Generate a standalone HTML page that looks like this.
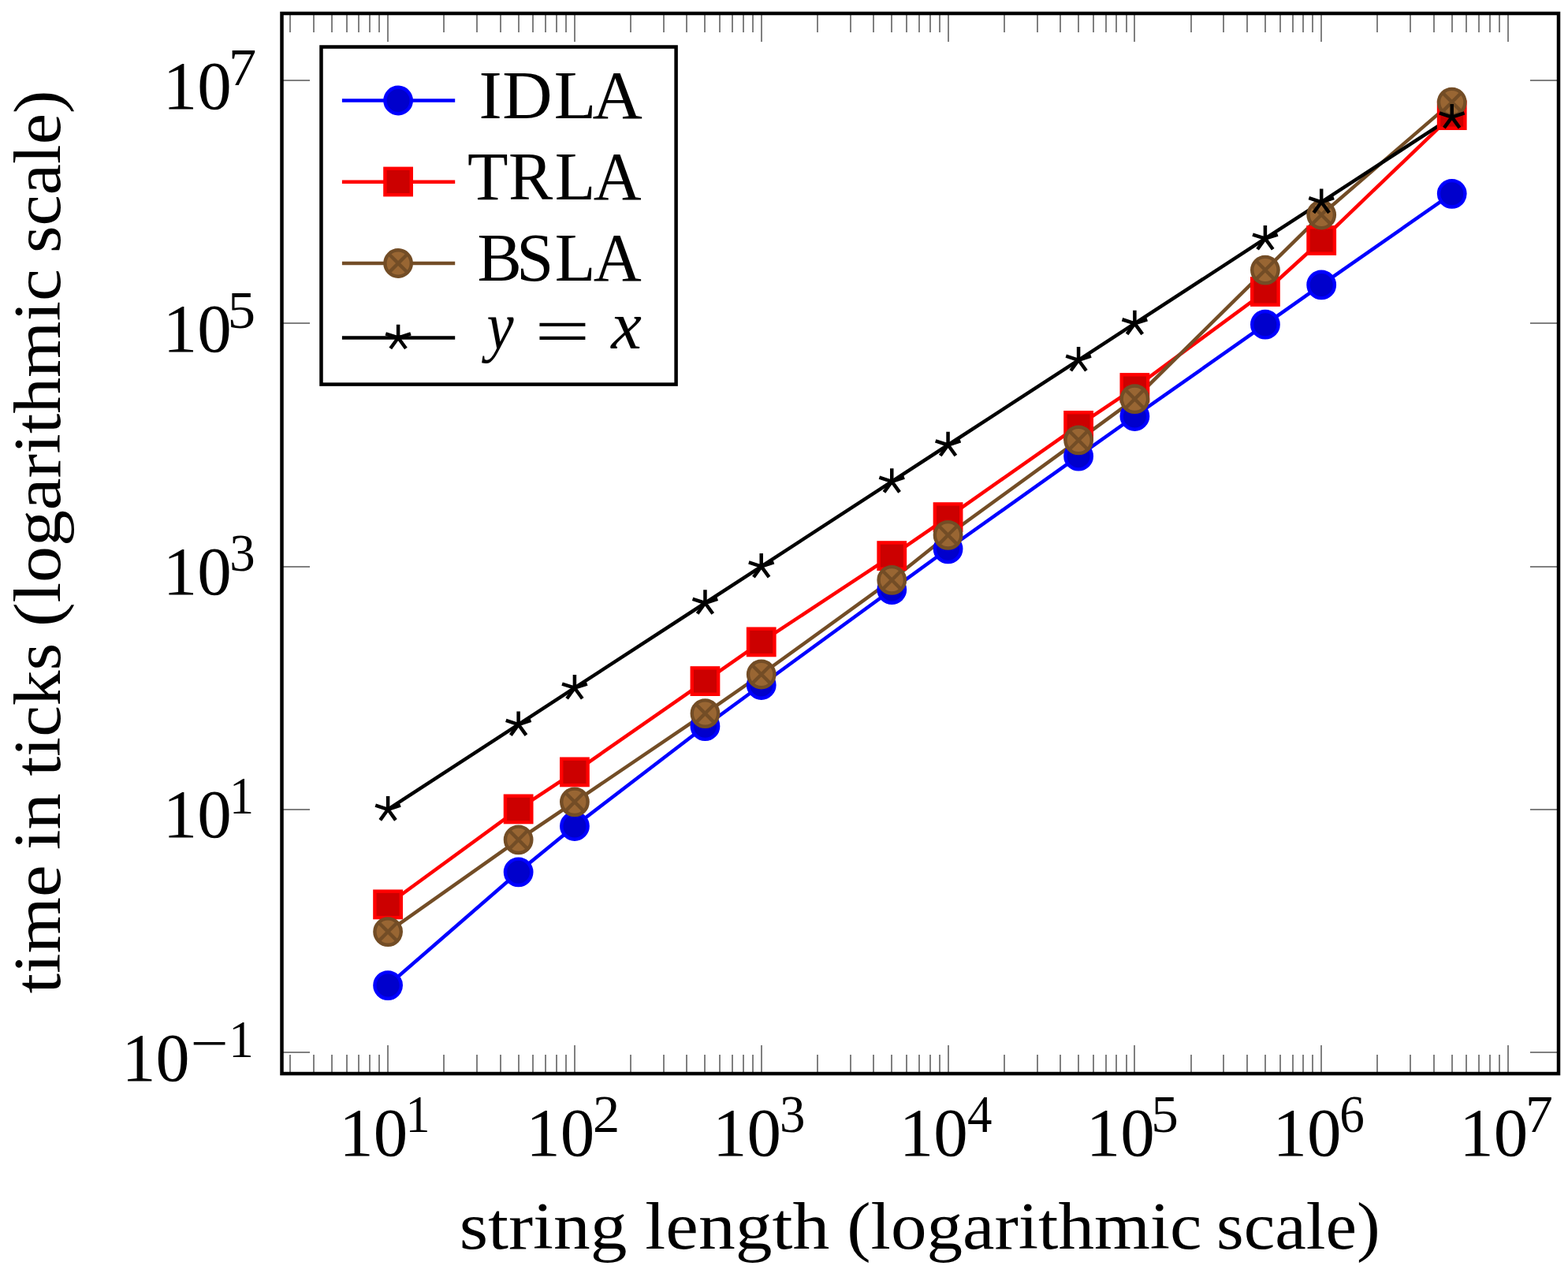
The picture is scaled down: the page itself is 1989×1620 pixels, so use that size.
<!DOCTYPE html>
<html lang="en"><head><meta charset="utf-8"><title>Running time plot</title>
<style>
html,body{margin:0;padding:0;background:#fff}
body{width:1989px;height:1620px;overflow:hidden}
svg{display:block}
text{font-family:"Liberation Serif",serif}
</style></head><body>
<svg width="1989" height="1620" viewBox="0 0 1989 1620">
<rect width="1989" height="1620" fill="#fff"/>
<g>
<path d="M368 1362.0 V1338 M368 17.0 V41 M398 1362.0 V1338 M398 17.0 V41 M421 1362.0 V1338 M421 17.0 V41 M440 1362.0 V1338 M440 17.0 V41 M455 1362.0 V1338 M455 17.0 V41 M469 1362.0 V1338 M469 17.0 V41 M481 1362.0 V1338 M481 17.0 V41 M492 1362.0 V1326 M492 17.0 V53 M563 1362.0 V1338 M563 17.0 V41 M605 1362.0 V1338 M605 17.0 V41 M635 1362.0 V1338 M635 17.0 V41 M658 1362.0 V1338 M658 17.0 V41 M676 1362.0 V1338 M676 17.0 V41 M692 1362.0 V1338 M692 17.0 V41 M706 1362.0 V1338 M706 17.0 V41 M718 1362.0 V1338 M718 17.0 V41 M729 1362.0 V1326 M729 17.0 V53 M800 1362.0 V1338 M800 17.0 V41 M842 1362.0 V1338 M842 17.0 V41 M871 1362.0 V1338 M871 17.0 V41 M894 1362.0 V1338 M894 17.0 V41 M913 1362.0 V1338 M913 17.0 V41 M929 1362.0 V1338 M929 17.0 V41 M943 1362.0 V1338 M943 17.0 V41 M955 1362.0 V1338 M955 17.0 V41 M966 1362.0 V1326 M966 17.0 V53 M1037 1362.0 V1338 M1037 17.0 V41 M1079 1362.0 V1338 M1079 17.0 V41 M1108 1362.0 V1338 M1108 17.0 V41 M1131 1362.0 V1338 M1131 17.0 V41 M1150 1362.0 V1338 M1150 17.0 V41 M1166 1362.0 V1338 M1166 17.0 V41 M1180 1362.0 V1338 M1180 17.0 V41 M1192 1362.0 V1338 M1192 17.0 V41 M1203 1362.0 V1326 M1203 17.0 V53 M1274 1362.0 V1338 M1274 17.0 V41 M1316 1362.0 V1338 M1316 17.0 V41 M1345 1362.0 V1338 M1345 17.0 V41 M1368 1362.0 V1338 M1368 17.0 V41 M1387 1362.0 V1338 M1387 17.0 V41 M1403 1362.0 V1338 M1403 17.0 V41 M1416 1362.0 V1338 M1416 17.0 V41 M1429 1362.0 V1338 M1429 17.0 V41 M1439 1362.0 V1326 M1439 17.0 V53 M1511 1362.0 V1338 M1511 17.0 V41 M1552 1362.0 V1338 M1552 17.0 V41 M1582 1362.0 V1338 M1582 17.0 V41 M1605 1362.0 V1338 M1605 17.0 V41 M1624 1362.0 V1338 M1624 17.0 V41 M1640 1362.0 V1338 M1640 17.0 V41 M1653 1362.0 V1338 M1653 17.0 V41 M1665 1362.0 V1338 M1665 17.0 V41 M1676 1362.0 V1326 M1676 17.0 V53 M1747 1362.0 V1338 M1747 17.0 V41 M1789 1362.0 V1338 M1789 17.0 V41 M1819 1362.0 V1338 M1819 17.0 V41 M1842 1362.0 V1338 M1842 17.0 V41 M1860 1362.0 V1338 M1860 17.0 V41 M1876 1362.0 V1338 M1876 17.0 V41 M1890 1362.0 V1338 M1890 17.0 V41 M1902 1362.0 V1338 M1902 17.0 V41 M1913 1362.0 V1326 M1913 17.0 V53 M357.5 1335 H393 M1977.0 1335 H1941 M357.5 1027 H393 M1977.0 1027 H1941 M357.5 719 H393 M1977.0 719 H1941 M357.5 410 H393 M1977.0 410 H1941 M357.5 102 H393 M1977.0 102 H1941" stroke="#808080" stroke-width="2" fill="none"/>
<rect x="357.5" y="17.0" width="1619.5" height="1345.0" fill="none" stroke="#000" stroke-width="4.5"/>
<path d="M492.10 1250.10 L657.63 1106.30 L728.92 1048.00 L894.45 921.20 L965.74 869.00 L1131.27 748.10 L1202.56 696.30 L1368.09 578.70 L1439.38 528.00 L1604.91 411.70 L1676.20 361.40 L1841.73 245.80" fill="none" stroke="#0000ff" stroke-width="4.5" stroke-linejoin="miter"/>
<path d="M492.10 1147.40 L657.63 1026.40 L728.92 979.40 L894.45 864.10 L965.74 814.40 L1131.27 705.10 L1202.56 656.10 L1368.09 539.90 L1439.38 492.00 L1604.91 370.00 L1676.20 305.00 L1841.73 146.10" fill="none" stroke="#ff0000" stroke-width="4.5" stroke-linejoin="miter"/>
<path d="M492.10 1182.10 L657.63 1065.30 L728.92 1017.30 L894.45 905.10 L965.74 855.50 L1131.27 735.80 L1202.56 678.80 L1368.09 558.40 L1439.38 506.20 L1604.91 342.60 L1676.20 272.50 L1841.73 129.60" fill="none" stroke="#734d26" stroke-width="4.5" stroke-linejoin="miter"/>
<path d="M492.10 1026.80 L657.63 919.09 L728.92 872.70 L894.45 764.99 L965.74 718.60 L1131.27 610.89 L1202.56 564.50 L1368.09 456.79 L1439.38 410.40 L1604.91 302.69 L1676.20 256.30 L1841.73 148.59" fill="none" stroke="#000" stroke-width="4.5" stroke-linejoin="miter"/>
<circle cx="492.10" cy="1250.10" r="16.7" fill="#0000cc" stroke="#0000ff" stroke-width="4.4"/>
<circle cx="657.63" cy="1106.30" r="16.7" fill="#0000cc" stroke="#0000ff" stroke-width="4.4"/>
<circle cx="728.92" cy="1048.00" r="16.7" fill="#0000cc" stroke="#0000ff" stroke-width="4.4"/>
<circle cx="894.45" cy="921.20" r="16.7" fill="#0000cc" stroke="#0000ff" stroke-width="4.4"/>
<circle cx="965.74" cy="869.00" r="16.7" fill="#0000cc" stroke="#0000ff" stroke-width="4.4"/>
<circle cx="1131.27" cy="748.10" r="16.7" fill="#0000cc" stroke="#0000ff" stroke-width="4.4"/>
<circle cx="1202.56" cy="696.30" r="16.7" fill="#0000cc" stroke="#0000ff" stroke-width="4.4"/>
<circle cx="1368.09" cy="578.70" r="16.7" fill="#0000cc" stroke="#0000ff" stroke-width="4.4"/>
<circle cx="1439.38" cy="528.00" r="16.7" fill="#0000cc" stroke="#0000ff" stroke-width="4.4"/>
<circle cx="1604.91" cy="411.70" r="16.7" fill="#0000cc" stroke="#0000ff" stroke-width="4.4"/>
<circle cx="1676.20" cy="361.40" r="16.7" fill="#0000cc" stroke="#0000ff" stroke-width="4.4"/>
<circle cx="1841.73" cy="245.80" r="16.7" fill="#0000cc" stroke="#0000ff" stroke-width="4.4"/>
<rect x="475.40" y="1130.70" width="33.4" height="33.4" fill="#cc0000" stroke="#ff0000" stroke-width="4.4"/>
<rect x="640.93" y="1009.70" width="33.4" height="33.4" fill="#cc0000" stroke="#ff0000" stroke-width="4.4"/>
<rect x="712.22" y="962.70" width="33.4" height="33.4" fill="#cc0000" stroke="#ff0000" stroke-width="4.4"/>
<rect x="877.75" y="847.40" width="33.4" height="33.4" fill="#cc0000" stroke="#ff0000" stroke-width="4.4"/>
<rect x="949.04" y="797.70" width="33.4" height="33.4" fill="#cc0000" stroke="#ff0000" stroke-width="4.4"/>
<rect x="1114.57" y="688.40" width="33.4" height="33.4" fill="#cc0000" stroke="#ff0000" stroke-width="4.4"/>
<rect x="1185.86" y="639.40" width="33.4" height="33.4" fill="#cc0000" stroke="#ff0000" stroke-width="4.4"/>
<rect x="1351.39" y="523.20" width="33.4" height="33.4" fill="#cc0000" stroke="#ff0000" stroke-width="4.4"/>
<rect x="1422.68" y="475.30" width="33.4" height="33.4" fill="#cc0000" stroke="#ff0000" stroke-width="4.4"/>
<rect x="1588.21" y="353.30" width="33.4" height="33.4" fill="#cc0000" stroke="#ff0000" stroke-width="4.4"/>
<rect x="1659.50" y="288.30" width="33.4" height="33.4" fill="#cc0000" stroke="#ff0000" stroke-width="4.4"/>
<rect x="1825.03" y="129.40" width="33.4" height="33.4" fill="#cc0000" stroke="#ff0000" stroke-width="4.4"/>
<circle cx="492.10" cy="1182.10" r="16.7" fill="#996633" stroke="#734d26" stroke-width="4.4"/><path d="M480.29 1170.29 L503.91 1193.91 M480.29 1193.91 L503.91 1170.29" stroke="#734d26" stroke-width="4.4" fill="none"/>
<circle cx="657.63" cy="1065.30" r="16.7" fill="#996633" stroke="#734d26" stroke-width="4.4"/><path d="M645.82 1053.49 L669.44 1077.11 M645.82 1077.11 L669.44 1053.49" stroke="#734d26" stroke-width="4.4" fill="none"/>
<circle cx="728.92" cy="1017.30" r="16.7" fill="#996633" stroke="#734d26" stroke-width="4.4"/><path d="M717.11 1005.49 L740.73 1029.11 M717.11 1029.11 L740.73 1005.49" stroke="#734d26" stroke-width="4.4" fill="none"/>
<circle cx="894.45" cy="905.10" r="16.7" fill="#996633" stroke="#734d26" stroke-width="4.4"/><path d="M882.64 893.29 L906.26 916.91 M882.64 916.91 L906.26 893.29" stroke="#734d26" stroke-width="4.4" fill="none"/>
<circle cx="965.74" cy="855.50" r="16.7" fill="#996633" stroke="#734d26" stroke-width="4.4"/><path d="M953.93 843.69 L977.55 867.31 M953.93 867.31 L977.55 843.69" stroke="#734d26" stroke-width="4.4" fill="none"/>
<circle cx="1131.27" cy="735.80" r="16.7" fill="#996633" stroke="#734d26" stroke-width="4.4"/><path d="M1119.46 723.99 L1143.08 747.61 M1119.46 747.61 L1143.08 723.99" stroke="#734d26" stroke-width="4.4" fill="none"/>
<circle cx="1202.56" cy="678.80" r="16.7" fill="#996633" stroke="#734d26" stroke-width="4.4"/><path d="M1190.75 666.99 L1214.37 690.61 M1190.75 690.61 L1214.37 666.99" stroke="#734d26" stroke-width="4.4" fill="none"/>
<circle cx="1368.09" cy="558.40" r="16.7" fill="#996633" stroke="#734d26" stroke-width="4.4"/><path d="M1356.28 546.59 L1379.90 570.21 M1356.28 570.21 L1379.90 546.59" stroke="#734d26" stroke-width="4.4" fill="none"/>
<circle cx="1439.38" cy="506.20" r="16.7" fill="#996633" stroke="#734d26" stroke-width="4.4"/><path d="M1427.57 494.39 L1451.19 518.01 M1427.57 518.01 L1451.19 494.39" stroke="#734d26" stroke-width="4.4" fill="none"/>
<circle cx="1604.91" cy="342.60" r="16.7" fill="#996633" stroke="#734d26" stroke-width="4.4"/><path d="M1593.10 330.79 L1616.72 354.41 M1593.10 354.41 L1616.72 330.79" stroke="#734d26" stroke-width="4.4" fill="none"/>
<circle cx="1676.20" cy="272.50" r="16.7" fill="#996633" stroke="#734d26" stroke-width="4.4"/><path d="M1664.39 260.69 L1688.01 284.31 M1664.39 284.31 L1688.01 260.69" stroke="#734d26" stroke-width="4.4" fill="none"/>
<circle cx="1841.73" cy="129.60" r="16.7" fill="#996633" stroke="#734d26" stroke-width="4.4"/><path d="M1829.92 117.79 L1853.54 141.41 M1829.92 141.41 L1853.54 117.79" stroke="#734d26" stroke-width="4.4" fill="none"/>
<path d="M492.10 1026.80 L492.10 1010.10 M492.10 1026.80 L476.22 1021.64 M492.10 1026.80 L482.28 1040.31 M492.10 1026.80 L501.92 1040.31 M492.10 1026.80 L507.98 1021.64 " stroke="#000" stroke-width="4.5" fill="none"/>
<path d="M657.63 919.09 L657.63 902.39 M657.63 919.09 L641.75 913.93 M657.63 919.09 L647.81 932.60 M657.63 919.09 L667.45 932.60 M657.63 919.09 L673.51 913.93 " stroke="#000" stroke-width="4.5" fill="none"/>
<path d="M728.92 872.70 L728.92 856.00 M728.92 872.70 L713.04 867.54 M728.92 872.70 L719.10 886.21 M728.92 872.70 L738.74 886.21 M728.92 872.70 L744.80 867.54 " stroke="#000" stroke-width="4.5" fill="none"/>
<path d="M894.45 764.99 L894.45 748.29 M894.45 764.99 L878.57 759.83 M894.45 764.99 L884.63 778.50 M894.45 764.99 L904.27 778.50 M894.45 764.99 L910.33 759.83 " stroke="#000" stroke-width="4.5" fill="none"/>
<path d="M965.74 718.60 L965.74 701.90 M965.74 718.60 L949.86 713.44 M965.74 718.60 L955.92 732.11 M965.74 718.60 L975.56 732.11 M965.74 718.60 L981.62 713.44 " stroke="#000" stroke-width="4.5" fill="none"/>
<path d="M1131.27 610.89 L1131.27 594.19 M1131.27 610.89 L1115.39 605.73 M1131.27 610.89 L1121.45 624.40 M1131.27 610.89 L1141.09 624.40 M1131.27 610.89 L1147.15 605.73 " stroke="#000" stroke-width="4.5" fill="none"/>
<path d="M1202.56 564.50 L1202.56 547.80 M1202.56 564.50 L1186.68 559.34 M1202.56 564.50 L1192.74 578.01 M1202.56 564.50 L1212.38 578.01 M1202.56 564.50 L1218.44 559.34 " stroke="#000" stroke-width="4.5" fill="none"/>
<path d="M1368.09 456.79 L1368.09 440.09 M1368.09 456.79 L1352.21 451.63 M1368.09 456.79 L1358.27 470.30 M1368.09 456.79 L1377.91 470.30 M1368.09 456.79 L1383.97 451.63 " stroke="#000" stroke-width="4.5" fill="none"/>
<path d="M1439.38 410.40 L1439.38 393.70 M1439.38 410.40 L1423.50 405.24 M1439.38 410.40 L1429.56 423.91 M1439.38 410.40 L1449.20 423.91 M1439.38 410.40 L1455.26 405.24 " stroke="#000" stroke-width="4.5" fill="none"/>
<path d="M1604.91 302.69 L1604.91 285.99 M1604.91 302.69 L1589.03 297.53 M1604.91 302.69 L1595.09 316.20 M1604.91 302.69 L1614.73 316.20 M1604.91 302.69 L1620.79 297.53 " stroke="#000" stroke-width="4.5" fill="none"/>
<path d="M1676.20 256.30 L1676.20 239.60 M1676.20 256.30 L1660.32 251.14 M1676.20 256.30 L1666.38 269.81 M1676.20 256.30 L1686.02 269.81 M1676.20 256.30 L1692.08 251.14 " stroke="#000" stroke-width="4.5" fill="none"/>
<path d="M1841.73 148.59 L1841.73 131.89 M1841.73 148.59 L1825.85 143.43 M1841.73 148.59 L1831.91 162.10 M1841.73 148.59 L1851.55 162.10 M1841.73 148.59 L1857.61 143.43 " stroke="#000" stroke-width="4.5" fill="none"/>
<rect x="407.5" y="59.5" width="450.1" height="428.1" fill="#fff" stroke="#000" stroke-width="4.5"/>
<path d="M433.9 127.5 H577.2" stroke="#0000ff" stroke-width="4.5" fill="none"/>
<path d="M433.9 230.8 H577.2" stroke="#ff0000" stroke-width="4.5" fill="none"/>
<path d="M433.9 334.0 H577.2" stroke="#734d26" stroke-width="4.5" fill="none"/>
<path d="M433.9 428.5 H577.2" stroke="#000" stroke-width="4.5" fill="none"/>
<circle cx="505.10" cy="127.50" r="16.7" fill="#0000cc" stroke="#0000ff" stroke-width="4.4"/>
<rect x="488.40" y="213.80" width="33.4" height="33.4" fill="#cc0000" stroke="#ff0000" stroke-width="4.4"/>
<circle cx="505.10" cy="334.00" r="16.7" fill="#996633" stroke="#734d26" stroke-width="4.4"/><path d="M493.29 322.19 L516.91 345.81 M493.29 345.81 L516.91 322.19" stroke="#734d26" stroke-width="4.4" fill="none"/>
<path d="M505.10 428.50 L505.10 411.80 M505.10 428.50 L489.22 423.34 M505.10 428.50 L495.28 442.01 M505.10 428.50 L514.92 442.01 M505.10 428.50 L520.98 423.34 " stroke="#000" stroke-width="4.5" fill="none"/>
</g>
<g>
<text transform="translate(0,150.40) scale(1.0146,1)" x="598.65 628.06 692.58 740.71" y="0" font-size="86.5" font-style="normal">IDLA</text>
<text transform="translate(0,253.10) scale(0.9742,1)" x="608.74 662.05 722.31 772.69" y="0" font-size="86.5" font-style="normal">TRLA</text>
<text transform="translate(0,356.10) scale(0.9761,1)" x="620.42 671.25 720.88 771.16" y="0" font-size="86.5" font-style="normal">BSLA</text>
<text transform="translate(617.40,442.30) scale(0.8826,1)" font-size="87" font-style="italic" fill="#000">y</text>
<text transform="translate(678.17,448.50) scale(1.4658,1)" font-size="85" font-style="normal" fill="#000">=</text>
<text transform="translate(775.30,442.30) scale(1.0000,1)" font-size="87" font-style="italic" fill="#000">x</text>
<text transform="translate(430.36,1466.00) scale(1.0059,1)" font-size="86.5" font-style="normal" fill="#000">10</text>
<text transform="translate(514.55,1436.00) scale(0.9305,1)" font-size="66.8" font-style="normal" fill="#000">1</text>
<text transform="translate(667.18,1466.00) scale(1.0059,1)" font-size="86.5" font-style="normal" fill="#000">10</text>
<text transform="translate(751.95,1436.00) scale(1.0243,1)" font-size="66.8" font-style="normal" fill="#000">2</text>
<text transform="translate(904.00,1466.00) scale(1.0059,1)" font-size="86.5" font-style="normal" fill="#000">10</text>
<text transform="translate(989.08,1436.00) scale(0.9709,1)" font-size="66.8" font-style="normal" fill="#000">3</text>
<text transform="translate(1140.82,1466.00) scale(1.0059,1)" font-size="86.5" font-style="normal" fill="#000">10</text>
<text transform="translate(1226.98,1436.00) scale(0.9419,1)" font-size="66.8" font-style="normal" fill="#000">4</text>
<text transform="translate(1377.64,1466.00) scale(1.0059,1)" font-size="86.5" font-style="normal" fill="#000">10</text>
<text transform="translate(1460.14,1436.00) scale(1.0355,1)" font-size="66.8" font-style="normal" fill="#000">5</text>
<text transform="translate(1614.46,1466.00) scale(1.0059,1)" font-size="86.5" font-style="normal" fill="#000">10</text>
<text transform="translate(1699.30,1436.00) scale(0.9461,1)" font-size="66.8" font-style="normal" fill="#000">6</text>
<text transform="translate(1851.28,1466.00) scale(1.0059,1)" font-size="86.5" font-style="normal" fill="#000">10</text>
<text transform="translate(1935.12,1436.00) scale(1.0444,1)" font-size="66.8" font-style="normal" fill="#000">7</text>
<text transform="translate(206.76,1062.10) scale(1.0059,1)" font-size="86.5" font-style="normal" fill="#000">10</text>
<text transform="translate(290.95,1032.10) scale(0.9305,1)" font-size="66.8" font-style="normal" fill="#000">1</text>
<text transform="translate(206.76,753.90) scale(1.0059,1)" font-size="86.5" font-style="normal" fill="#000">10</text>
<text transform="translate(291.34,723.90) scale(0.9709,1)" font-size="66.8" font-style="normal" fill="#000">3</text>
<text transform="translate(206.76,445.70) scale(1.0059,1)" font-size="86.5" font-style="normal" fill="#000">10</text>
<text transform="translate(288.67,415.70) scale(1.0579,1)" font-size="66.8" font-style="normal" fill="#000">5</text>
<text transform="translate(206.76,137.50) scale(1.0059,1)" font-size="86.5" font-style="normal" fill="#000">10</text>
<text transform="translate(290.05,107.50) scale(1.0556,1)" font-size="66.8" font-style="normal" fill="#000">7</text>
<text transform="translate(154.43,1370.50) scale(0.9954,1)" font-size="86.5" font-style="normal" fill="#000">10</text>
<text transform="translate(241.84,1346.40) scale(1.2800,1)" font-size="66.8" font-style="normal" fill="#000">−</text>
<text transform="translate(290.28,1340.50) scale(0.9432,1)" font-size="66.8" font-style="normal" fill="#000">1</text>
<text transform="translate(582.65,1584.20) scale(1.0997,1)" font-size="85.0" font-style="normal" fill="#000">string</text>
<text transform="translate(818.37,1584.20) scale(1.1012,1)" font-size="85.0" font-style="normal" fill="#000">length</text>
<text transform="translate(1074.28,1584.20) scale(1.0719,1)" font-size="85.0" font-style="normal" fill="#000">(logarithmic</text>
<text transform="translate(1543.03,1584.20) scale(1.0476,1)" font-size="85.0" font-style="normal" fill="#000">scale)</text>
<text transform="translate(76.20,1260.41) rotate(-90) scale(1.0793,1)" font-size="85.0" font-style="normal" fill="#000">time</text>
<text transform="translate(76.20,1078.20) rotate(-90) scale(1.0873,1)" font-size="85.0" font-style="normal" fill="#000">in</text>
<text transform="translate(76.20,984.49) rotate(-90) scale(1.0514,1)" font-size="85.0" font-style="normal" fill="#000">ticks</text>
<text transform="translate(76.20,795.05) rotate(-90) scale(1.0804,1)" font-size="85.0" font-style="normal" fill="#000">(logarithmic</text>
<text transform="translate(76.20,321.05) rotate(-90) scale(1.0424,1)" font-size="85.0" font-style="normal" fill="#000">scale)</text>
</g>
</svg>
</body></html>
